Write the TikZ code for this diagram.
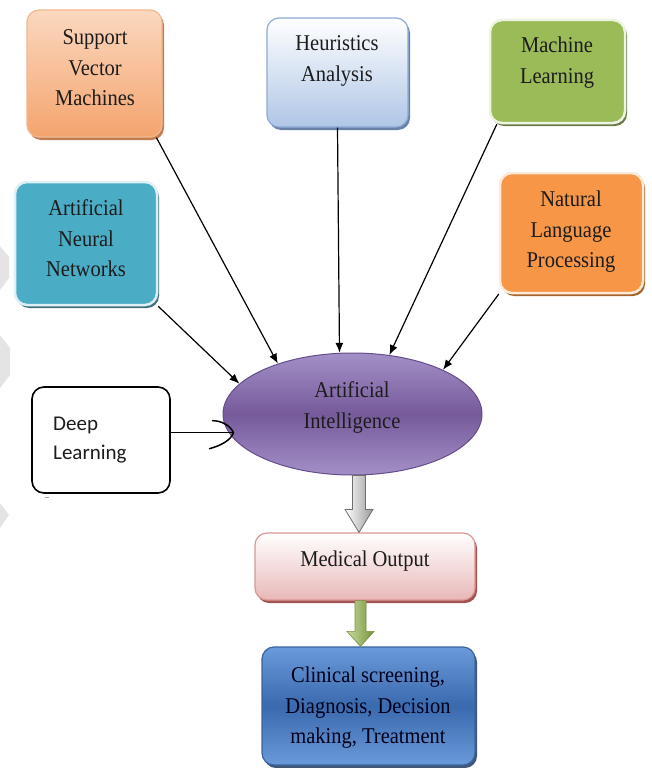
\documentclass[tikz,border=0pt]{standalone}
\usepackage{fontspec}
\setmainfont{Liberation Serif}
\newfontfamily\calfont{Carlito}
\usetikzlibrary{shapes.geometric,arrows.meta,shadows,calc}

% centred lines, set slightly tall
\newcommand\tallbox[1]{\scalebox{1}[1.1]{\begin{tabular}{@{}c@{}}#1\end{tabular}}}

% palette
\definecolor{svmTop}{HTML}{FBD8BF}
\definecolor{svmBot}{HTML}{F4A46E}
\definecolor{svmEdge}{HTML}{F2B88F}
\definecolor{svmShade}{HTML}{B66A36}
\definecolor{heurBot}{HTML}{AFC6E6}
\definecolor{heurEdge}{HTML}{8EAAD6}
\definecolor{heurShade}{HTML}{4F6D98}
\definecolor{mlFill}{HTML}{9BBB59}
\definecolor{mlEdge}{HTML}{EEF4E2}
\definecolor{mlShade}{HTML}{4F6228}
\definecolor{annFill}{HTML}{4BACC6}
\definecolor{annEdge}{HTML}{DDF0F6}
\definecolor{annShade}{HTML}{205867}
\definecolor{nlpFill}{HTML}{F79646}
\definecolor{nlpEdge}{HTML}{FDEADA}
\definecolor{nlpShade}{HTML}{974806}
\definecolor{aiTop}{HTML}{A390C7}
\definecolor{aiMid}{HTML}{765A9B}
\definecolor{aiEdge}{HTML}{644D8A}
\definecolor{medBot}{HTML}{E8B8B7}
\definecolor{medEdge}{HTML}{D99694}
\definecolor{medShade}{HTML}{943634}
\definecolor{clinTop}{HTML}{6A9AD9}
\definecolor{clinMid}{HTML}{3A6AAE}
\definecolor{clinEdge}{HTML}{3A649E}
\definecolor{clinShade}{HTML}{1F3A60}
\definecolor{ink}{HTML}{1C1C1C}
\definecolor{wmGray}{HTML}{E4E4E4}
\definecolor{grayArrow}{HTML}{9A9A9A}
\definecolor{grayEdge}{HTML}{6E6E6E}
\definecolor{greenLight}{HTML}{C6DA9E}
\definecolor{greenDark}{HTML}{76923C}

\begin{document}
\begin{tikzpicture}[x=1pt,y=-1pt,
  box/.style={rectangle,rounded corners=12pt,inner sep=0pt,line width=1.2pt},
  dropsh/.style={drop shadow={shadow xshift=2pt,shadow yshift=-3pt,fill=#1,opacity=0.85}},
  txt/.style={text=ink,inner sep=0pt,font=\fontsize{20.5}{28}\selectfont},
  feed/.style={line width=1.2pt,-{Latex[length=10pt,width=8pt]}},
  barb/.style={line width=1.5pt,line cap=round},
]
% page
\fill[white] (0,0) rectangle (652,768);
\path[use as bounding box] (0,0) rectangle (652,768);

% faint chevrons along the left edge
\fill[wmGray] (0,246) -- (9,257) -- (9,278) -- (0,290) -- cycle;
\fill[wmGray] (0,335) -- (10,348) -- (10,375) -- (0,388) -- cycle;
\fill[wmGray] (0,503) -- (9,515) -- (0,528) -- cycle;

% technique boxes
\node[box,dropsh=svmShade,top color=svmTop,bottom color=svmBot,draw=svmEdge,
      minimum width=135pt,minimum height=127pt] (svm) at (94.5,73.5) {};
\node[txt] (svmtxt) at (95,69) {\tallbox{Support\\Vector\\Machines}};

\node[box,dropsh=heurShade,top color=white,bottom color=heurBot,draw=heurEdge,
      minimum width=141pt,minimum height=109pt] (heur) at (337.5,72.5) {};
\node[txt] (heurtxt) at (337,60) {\tallbox{Heuristics\\Analysis}};

\node[box,dropsh=mlShade,fill=mlFill,draw=mlEdge,line width=2.5pt,
      minimum width=135pt,minimum height=103pt] (ml) at (557.5,71.5) {};
\node[txt] (mltxt) at (557,62) {\tallbox{Machine\\Learning}};

\node[box,dropsh=annShade,fill=annFill,draw=annEdge,line width=2.5pt,
      minimum width=142pt,minimum height=123pt] (ann) at (86,243.5) {};
\node[txt] (anntxt) at (86,240) {\tallbox{Artificial\\Neural\\Networks}};

\node[box,dropsh=nlpShade,fill=nlpFill,draw=nlpEdge,line width=2.5pt,
      minimum width=143pt,minimum height=120pt] (nlp) at (571.5,233) {};
\node[txt] (nlptxt) at (571,231) {\tallbox{Natural\\Language\\Processing}};

\node[box,draw=black,fill=white,line width=1.6pt,
      minimum width=138pt,minimum height=106pt] (dl) at (101,440) {};
\node[anchor=west,align=left,inner sep=0pt,text=ink,
      font=\calfont\fontsize{21}{29}\selectfont] (dltxt) at (53,440) {Deep\\Learning};
\fill[gray!70] (45,496.5) rectangle (49,497.5);

% central ellipse
\node[ellipse,draw=aiEdge,line width=1pt,top color=aiTop,bottom color=aiTop,
      middle color=aiMid,minimum width=259pt,minimum height=122pt,inner sep=0pt] (ai) at (352.5,414) {};
\node[txt] (aitxt) at (352,407) {\tallbox{Artificial\\Intelligence}};

% outcome boxes
\node[box,dropsh=medShade,top color=white,bottom color=medBot,draw=medEdge,
      minimum width=220pt,minimum height=67pt] (med) at (365,566.5) {};
\node[txt] (medtxt) at (365,560) {\tallbox{Medical Output}};

\node[box,dropsh=clinShade,top color=clinTop,bottom color=clinTop,middle color=clinMid,
      draw=clinEdge,minimum width=213pt,minimum height=118pt] (clin) at (368.5,706) {};
\node[txt,text=black!90!blue] (clintxt) at (368,707) {\tallbox{Clinical screening,\\Diagnosis, Decision\\making, Treatment}};

% feeds into the ellipse
\draw[feed] (svm.-46) -- (ai.146);
\draw[feed] (ann.-41) -- (ai.165);
\draw[feed] (heur.south) -- (ai.102);
\draw[feed] (ml.221) -- (ai.58);
\draw[feed] (nlp.220) -- (ai.26);

% hand-drawn style arrow from Deep Learning
\coordinate (dltip) at ([xshift=11pt]ai.west |- dl.6);
\draw[line width=1.5pt] (dl.6) -- (dltip);
\draw[barb] (dltip) .. controls ($(dltip)+(-3,-7)$) and ($(dltip)+(-12,-12)$) .. ($(dltip)+(-21,-12)$);
\draw[barb] (dltip) .. controls ($(dltip)+(-3,8)$) and ($(dltip)+(-13,13)$) .. ($(dltip)+(-24,16)$);

% block arrow: ellipse to medical output
\coordinate (gA) at ([xshift=6.5pt]ai.south);
\coordinate (gB) at ([xshift=-6pt]med.north);
\path[left color=white,right color=grayArrow,draw=grayEdge,line width=0.8pt]
  ($(gA)+(-6.5,0)$) -- ($(gB)+(-6.5,-23)$) -- ($(gB)+(-14,-23)$) -- (gB)
  -- ($(gB)+(14,-23)$) -- ($(gB)+(6.5,-23)$) -- ($(gA)+(6.5,0)$) -- cycle;

% block arrow: medical output to clinical use
\coordinate (gC) at ([xshift=-4.5pt]med.south);
\coordinate (gD) at ([xshift=-8pt]clin.north);
\path[left color=greenLight,right color=greenDark,draw=greenDark,line width=0.6pt]
  ($(gC)+(-5.5,0)$) -- ($(gD)+(-5.5,-15)$) -- ($(gD)+(-13.5,-15)$) -- (gD)
  -- ($(gD)+(13.5,-15)$) -- ($(gD)+(5.5,-15)$) -- ($(gC)+(5.5,0)$) -- cycle;
\end{tikzpicture}
\end{document}
